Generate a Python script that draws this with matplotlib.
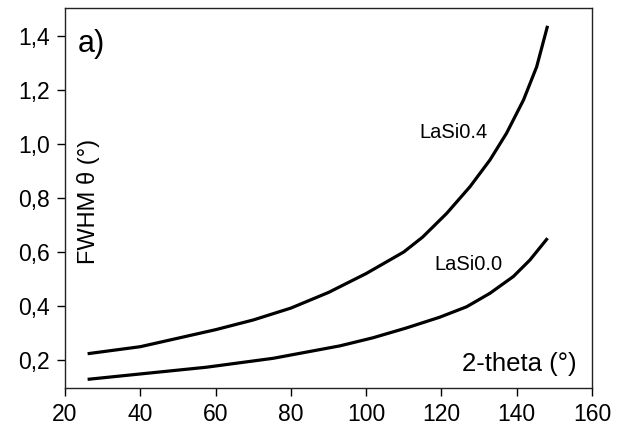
import matplotlib.pyplot as plt
from matplotlib.ticker import FixedLocator, FixedFormatter

plt.rcParams["font.family"] = ["Liberation Sans", "DejaVu Sans"]

# LaSi0.4 curve
two_theta_04 = [26, 40, 60, 70, 80, 90, 100, 110, 115, 121.4, 127.6, 132.9, 137.3, 141.8, 145.3, 148.2]
fwhm_04 = [0.223, 0.249, 0.312, 0.348, 0.392, 0.450, 0.520, 0.600, 0.655, 0.743, 0.842, 0.941, 1.040, 1.163, 1.286, 1.438]

# LaSi0.0 curve
two_theta_00 = [26, 40, 57.6, 75.3, 93, 101.8, 110.6, 119.5, 126.7, 132.9, 139.1, 143.5, 148.2]
fwhm_00 = [0.128, 0.148, 0.173, 0.206, 0.252, 0.282, 0.318, 0.358, 0.397, 0.447, 0.509, 0.570, 0.651]

x_ticks = [20, 40, 60, 80, 100, 120, 140, 160]
y_ticks = [0.2, 0.4, 0.6, 0.8, 1.0, 1.2, 1.4]
y_tick_labels = ["0,2", "0,4", "0,6", "0,8", "1,0", "1,2", "1,4"]

fig = plt.figure(figsize=(6.24, 4.29), dpi=100)
ax = fig.add_axes([0.1042, 0.0956, 0.8445, 0.8858])

line_kw = dict(color="black", linewidth=2.3, solid_joinstyle="round", solid_capstyle="butt")
ax.plot(two_theta_04, fwhm_04, **line_kw)
ax.plot(two_theta_00, fwhm_00, **line_kw)

ax.set_xlim(20, 160)
ax.set_ylim(0.096, 1.504)
ax.xaxis.set_major_locator(FixedLocator(x_ticks))
ax.yaxis.set_major_locator(FixedLocator(y_ticks))
ax.yaxis.set_major_formatter(FixedFormatter(y_tick_labels))
ax.tick_params(direction="out", length=6, width=1, labelsize=16.5, pad=5,
               top=False, right=False)

for spine in ax.spines.values():
    spine.set_linewidth(1.0)
    spine.set_color("#222222")

ax.text(123.3, 1.044, "LaSi0.4", fontsize=14.5, ha="center", va="center")
ax.text(127.3, 0.552, "LaSi0.0", fontsize=14.5, ha="center", va="center")
ax.text(0.9715, 0.063, "2-theta (°)", fontsize=18.5, ha="right", va="center",
        transform=ax.transAxes)
ax.text(0.025, 0.905, "a)", fontsize=22, ha="left", va="center",
        transform=ax.transAxes)
ax.text(0.044, 0.492, "FWHM θ (°)", fontsize=17, ha="center", va="center",
        rotation=90, transform=ax.transAxes)

fig.savefig("out.png", dpi=100)
plt.close(fig)
